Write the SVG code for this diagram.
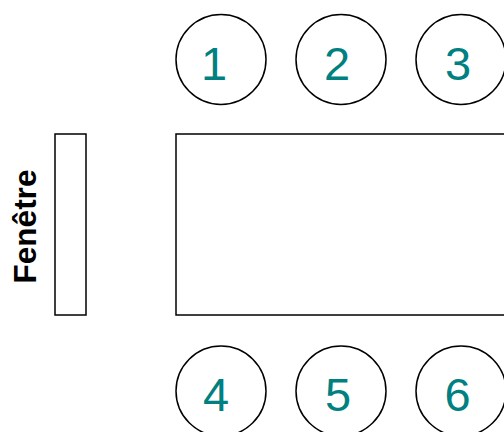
<svg xmlns="http://www.w3.org/2000/svg" width="504" height="432" viewBox="0 0 504 432">
<style>
.shape{fill:#fff;stroke:#000;stroke-width:1.5}
.num{font-family:"Liberation Sans",Arial,sans-serif;font-size:47px;fill:#008080;text-anchor:middle}
.lbl{font-family:"Liberation Sans",Arial,sans-serif;font-size:31.5px;font-weight:bold;fill:#000;text-anchor:middle}
</style>
<rect width="504" height="432" fill="#fff"/>
<g id="window">
<rect class="shape" x="55" y="134" width="31" height="181"/>
<text class="lbl" transform="translate(36,226.5) rotate(-90)">Fenêtre</text>
</g>
<g id="table"><rect class="shape" x="176" y="134" width="340" height="181"/></g>
<g id="seat1"><circle class="shape" cx="221" cy="59.5" r="45"/><text class="num" x="214" y="80">1</text></g>
<g id="seat2"><circle class="shape" cx="341" cy="59.5" r="45"/><text class="num" x="337" y="80">2</text></g>
<g id="seat3"><circle class="shape" cx="461" cy="59.5" r="45"/><text class="num" x="458" y="80">3</text></g>
<g id="seat4"><circle class="shape" cx="221" cy="391" r="45"/><text class="num" x="216" y="411">4</text></g>
<g id="seat5"><circle class="shape" cx="341" cy="391" r="45"/><text class="num" x="338" y="411">5</text></g>
<g id="seat6"><circle class="shape" cx="461" cy="391" r="45"/><text class="num" x="457.5" y="411">6</text></g>
<g id="connectors"/>
</svg>
